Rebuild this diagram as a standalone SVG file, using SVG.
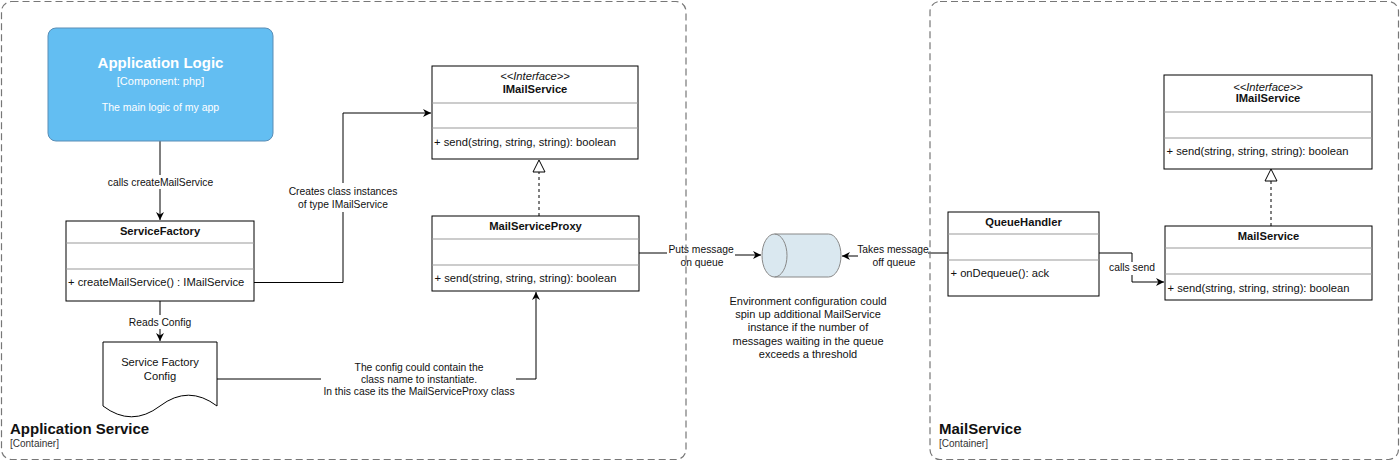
<svg xmlns="http://www.w3.org/2000/svg" width="1400" height="461" viewBox="0 0 1400 461">
<style>
text{font-family:"Liberation Sans",Arial,sans-serif;fill:#111}
.box{fill:#fff;stroke:#000;stroke-width:1}
.sep{stroke:#999;stroke-width:1}
.ttl{font-size:11.2px;font-weight:bold;text-anchor:middle}
.itf{font-size:11.2px;font-style:italic;text-anchor:middle}
.mth{font-size:11.2px}
.lbl{font-size:10.3px;text-anchor:middle}
.lbg{fill:#fff}
.edge{fill:none;stroke:#000;stroke-width:1}
.dash{fill:none;stroke:#000;stroke-width:1;stroke-dasharray:3 3}
.cont{fill:none;stroke:#777;stroke-width:1.2;stroke-dasharray:7 4}
.ctitle{font-size:15px;font-weight:bold}
.csub{font-size:10px;fill:#333}
</style>
<defs>
<marker id="arr" viewBox="0 0 10 10" refX="10" refY="5" markerWidth="9" markerHeight="8" markerUnits="userSpaceOnUse" orient="auto">
<path d="M0,0 L10,5 L0,10 L3,5 Z" fill="#000"/>
</marker>
</defs>
<rect width="1400" height="461" fill="#fff"/>

<g id="connectors">
<path class="edge" d="M160,141 V220" marker-end="url(#arr)"/>
<path class="edge" d="M254,282.5 H343 V113 H431" marker-end="url(#arr)"/>
<path class="edge" d="M160,301 V341" marker-end="url(#arr)"/>
<path class="edge" d="M217,379 H536 V292" marker-end="url(#arr)"/>
<path class="dash" d="M539,216 V172"/>
<path d="M539,160 L545,172 L533,172 Z" fill="#fff" stroke="#000"/>
<path class="edge" d="M639,253 H700 V255 H761" marker-end="url(#arr)"/>
<path class="edge" d="M948,253 H893 V256 H842" marker-end="url(#arr)"/>
<path class="edge" d="M1099,253 H1132 V282 H1164" marker-end="url(#arr)"/>
<path class="dash" d="M1271,226 V181"/>
<path d="M1271,169 L1277,181 L1265,181 Z" fill="#fff" stroke="#000"/>

<rect class="lbg" x="107" y="175" width="107" height="14"/>
<text class="lbl" x="160.5" y="185.5">calls createMailService</text>
<rect class="lbg" x="288" y="183" width="110" height="29"/>
<text class="lbl" x="343" y="195">Creates class instances</text>
<text class="lbl" x="343" y="208.3">of type IMailService</text>
<rect class="lbg" x="127" y="315" width="66" height="14"/>
<text class="lbl" x="160" y="325.5">Reads Config</text>
<rect class="lbg" x="321" y="361" width="195" height="38"/>
<text class="lbl" x="419" y="370.7">The config could contain the</text>
<text class="lbl" x="419" y="383.4">class name to instantiate.</text>
<text class="lbl" x="419" y="395.1">In this case its the MailServiceProxy class</text>
<rect class="lbg" x="667" y="242" width="68" height="27"/>
<text class="lbl" x="701" y="252.5">Puts message</text>
<text class="lbl" x="702" y="265.5">on queue</text>
<rect class="lbg" x="858" y="242" width="70" height="27"/>
<text class="lbl" x="893" y="252.5">Takes message</text>
<text class="lbl" x="894" y="265.5">off queue</text>
<rect class="lbg" x="1107" y="262" width="50" height="13"/>
<text class="lbl" x="1132" y="271.4">calls send</text>
</g>

<g id="app-logic">
<rect x="48" y="28" width="225" height="113" rx="8" fill="#63BEF2" stroke="#5a8db5"/>
<text x="160.5" y="68" style="font-size:15px;font-weight:bold;fill:#fff;text-anchor:middle">Application Logic</text>
<text x="160.5" y="85" style="font-size:11px;fill:#fff;text-anchor:middle">[Component: php]</text>
<text x="160.5" y="111" style="font-size:10.5px;fill:#fff;text-anchor:middle">The main logic of my app</text>
</g>

<g id="service-factory">
<rect class="box" x="66" y="221" width="188" height="80"/>
<line class="sep" x1="66" y1="243" x2="254" y2="243"/>
<line class="sep" x1="66" y1="269" x2="254" y2="269"/>
<text class="ttl" x="160" y="235">ServiceFactory</text>
<text class="mth" x="68" y="286">+ createMailService() : IMailService</text>
</g>

<g id="imailservice-left">
<rect class="box" x="432" y="66" width="206" height="93"/>
<line class="sep" x1="432" y1="103" x2="638" y2="103"/>
<line class="sep" x1="432" y1="128" x2="638" y2="128"/>
<text class="itf" x="535" y="80">&lt;&lt;Interface&gt;&gt;</text>
<text class="ttl" x="535" y="93">IMailService</text>
<text class="mth" x="434" y="146">+ send(string, string, string): boolean</text>
</g>

<g id="mailserviceproxy">
<rect class="box" x="432" y="216" width="207" height="75"/>
<line class="sep" x1="432" y1="239" x2="639" y2="239"/>
<line class="sep" x1="432" y1="265" x2="639" y2="265"/>
<text class="ttl" x="535.5" y="230">MailServiceProxy</text>
<text class="mth" x="434.5" y="282">+ send(string, string, string): boolean</text>
</g>

<g id="config-doc">
<path d="M103,342 H217 V406 Q188.5,384.4 160,406 Q131.5,427.6 103,406 Z" fill="#fff" stroke="#000"/>
<text class="ttl" x="160" y="366" style="font-weight:normal">Service Factory</text>
<text class="ttl" x="160" y="380" style="font-weight:normal">Config</text>
</g>

<g id="queue">
<path d="M774.5,234 H828.5 A12.5,21.5 0 0 1 828.5,277 H774.5 A12.5,21.5 0 0 1 774.5,234 Z" fill="#DAE8F0" stroke="#888"/>
<path d="M774.5,234 A12.5,21.5 0 0 1 774.5,277" fill="none" stroke="#888"/>
</g>

<g id="env-note">
<text x="808" y="304.6" style="font-size:11px;text-anchor:middle">Environment configuration could</text>
<text x="808" y="318" style="font-size:11px;text-anchor:middle">spin up additional MailService</text>
<text x="808" y="331.3" style="font-size:11px;text-anchor:middle">instance if the number of</text>
<text x="808" y="344.6" style="font-size:11px;text-anchor:middle">messages waiting in the queue</text>
<text x="808" y="358" style="font-size:11px;text-anchor:middle">exceeds a threshold</text>
</g>

<g id="queuehandler">
<rect class="box" x="948" y="212" width="151" height="84"/>
<line class="sep" x1="948" y1="234" x2="1099" y2="234"/>
<line class="sep" x1="948" y1="260" x2="1099" y2="260"/>
<text class="ttl" x="1023.5" y="226">QueueHandler</text>
<text class="mth" x="950.5" y="277">+ onDequeue(): ack</text>
</g>

<g id="mailservice">
<rect class="box" x="1165" y="226" width="207" height="74"/>
<line class="sep" x1="1165" y1="248" x2="1372" y2="248"/>
<line class="sep" x1="1165" y1="274" x2="1372" y2="274"/>
<text class="ttl" x="1268.5" y="240">MailService</text>
<text class="mth" x="1167.5" y="292">+ send(string, string, string): boolean</text>
</g>

<g id="imailservice-right">
<rect class="box" x="1164" y="75" width="208" height="94"/>
<line class="sep" x1="1164" y1="112" x2="1372" y2="112"/>
<line class="sep" x1="1164" y1="138" x2="1372" y2="138"/>
<text class="itf" x="1268" y="91">&lt;&lt;Interface&gt;&gt;</text>
<text class="ttl" x="1268" y="102">IMailService</text>
<text class="mth" x="1166.5" y="155">+ send(string, string, string): boolean</text>
</g>

<g id="application-service">
<rect class="cont" x="1.5" y="1.5" width="684.5" height="458" rx="10"/>
<text class="ctitle" x="10" y="434">Application Service</text>
<text class="csub" x="10" y="447">[Container]</text>
</g>

<g id="mailservice-container">
<rect class="cont" x="930" y="1.5" width="468.5" height="458" rx="10"/>
<text class="ctitle" x="939" y="434">MailService</text>
<text class="csub" x="939" y="447">[Container]</text>
</g>
</svg>
